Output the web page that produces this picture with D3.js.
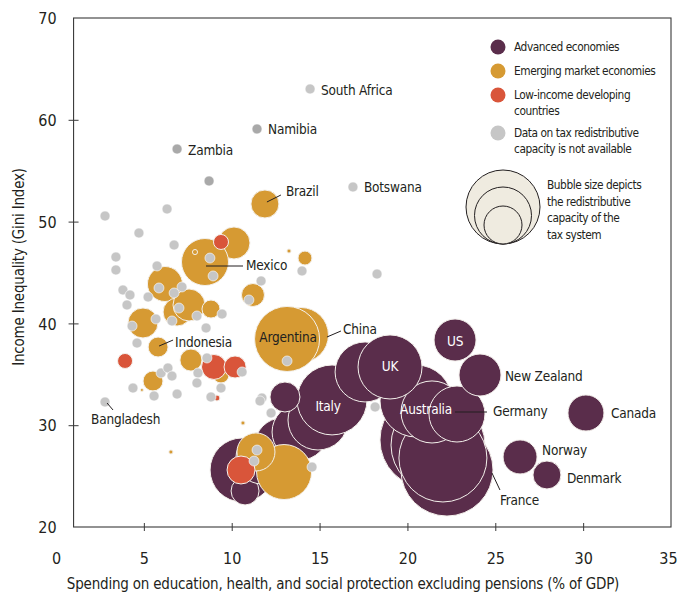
<!DOCTYPE html>
<html><head><meta charset="utf-8">
<script src="https://cdn.jsdelivr.net/npm/d3@7"></script>
<style>
html,body{margin:0;padding:0;background:#fff;}
svg text{font-family:"DejaVu Sans Condensed","DejaVu Sans",sans-serif;font-stretch:condensed;fill:#231f20;}
</style></head>
<body><svg id="c" width="678" height="596"></svg>
<script>
// ---- data ----
const xTicks = [0,5,10,15,20,25,30,35];
const yTicks = [20,30,40,50,60,70];
const groups = ["Advanced economies","Emerging market economies","Low-income developing countries","Data on tax redistributive capacity is not available"];

// x: social spending (% GDP), y: Gini, s: redistributive capacity
const advanced = [
  {name:"", x:21.17, y:28.55, s:21.3},
  {name:"", x:21.74, y:28.05, s:20.4},
  {name:"France", x:22.25, y:25.60, s:19.6},
  {name:"", x:22.02, y:26.78, s:17.9},
  {name:"Australia", x:20.49, y:32.38, s:12.0},
  {name:"", x:21.40, y:31.30, s:8.9},
  {name:"Germany", x:22.82, y:31.10, s:7.25},
  {name:"", x:10.59, y:25.60, s:9.47},
  {name:"", x:10.76, y:23.54, s:1.81},
  {name:"", x:11.72, y:26.78, s:6.25},
  {name:"", x:12.86, y:28.05, s:6.74},
  {name:"", x:13.89, y:29.33, s:7.25},
  {name:"", x:14.91, y:30.51, s:8.32},
  {name:"Italy", x:15.71, y:32.48, s:11.3},
  {name:"", x:17.59, y:35.23, s:8.32},
  {name:"UK", x:19.01, y:35.72, s:9.47},
  {name:"", x:13.03, y:32.77, s:2.08},
  {name:"US", x:22.71, y:38.37, s:4.08},
  {name:"New Zealand", x:24.13, y:34.93, s:4.08},
  {name:"Canada", x:30.16, y:31.20, s:3.00},
  {name:"Norway", x:26.41, y:26.88, s:2.67},
  {name:"Denmark", x:27.94, y:25.11, s:1.81}
];
const emerging = [
  {name:"China", x:13.94, y:38.86, s:6.99},
  {name:"Argentina", x:13.15, y:38.47, s:9.77},
  {name:"", x:12.98, y:25.40, s:6.99},
  {name:"", x:11.38, y:27.37, s:3.34},
  {name:"", x:10.13, y:47.90, s:2.37},
  {name:"Mexico", x:8.48, y:46.03, s:5.11},
  {name:"Brazil", x:11.89, y:51.73, s:1.81},
  {name:"", x:6.20, y:43.87, s:2.83},
  {name:"", x:6.89, y:41.12, s:1.81},
  {name:"", x:7.57, y:41.81, s:2.37},
  {name:"", x:8.82, y:41.41, s:0.75},
  {name:"", x:4.95, y:40.04, s:2.08},
  {name:"Indonesia", x:5.81, y:37.68, s:0.92},
  {name:"", x:7.68, y:36.40, s:1.12},
  {name:"", x:5.52, y:34.34, s:0.92},
  {name:"", x:11.21, y:42.79, s:1.22},
  {name:"", x:14.17, y:46.42, s:0.45},
  {name:"", x:9.39, y:34.93, s:0.59},
  {name:"", x:10.64, y:30.22, s:0.04},
  {name:"", x:6.54, y:27.37, s:0.04},
  {name:"", x:4.89, y:33.46, s:0.02},
  {name:"", x:13.26, y:47.11, s:0.04},
  {name:"", x:7.91, y:47.01, s:0.06}
];
const lowIncome = [
  {name:"", x:9.39, y:48.00, s:0.52},
  {name:"", x:3.93, y:36.31, s:0.52},
  {name:"", x:8.99, y:35.72, s:1.44},
  {name:"", x:10.19, y:35.72, s:1.12},
  {name:"", x:10.53, y:25.60, s:1.81},
  {name:"", x:9.16, y:32.67, s:0.08}
];
const notAvailable = [
  {name:"South Africa", x:14.46, y:63.03},
  {name:"Namibia", x:11.44, y:59.10, dark:true},
  {name:"Zambia", x:6.89, y:57.13, dark:true},
  {name:"Botswana", x:16.90, y:53.40},
  {name:"Bangladesh", x:2.79, y:32.28},
  {name:"", x:8.71, y:53.99, dark:true},
  {name:"", x:2.79, y:50.55},{name:"", x:6.32, y:51.24},{name:"", x:4.72, y:48.88},
  {name:"", x:6.72, y:47.70},{name:"", x:3.41, y:46.52},{name:"", x:3.41, y:45.25},
  {name:"", x:5.75, y:45.64},{name:"", x:8.76, y:46.42},{name:"", x:8.94, y:44.66},
  {name:"", x:3.81, y:43.28},{name:"", x:4.21, y:42.79},{name:"", x:5.24, y:42.59},
  {name:"", x:4.04, y:41.81},{name:"", x:5.86, y:43.48},{name:"", x:6.72, y:42.99},
  {name:"", x:7.17, y:43.58},{name:"", x:7.00, y:41.51},{name:"", x:8.02, y:40.73},
  {name:"", x:9.45, y:40.92},{name:"", x:11.67, y:44.17},{name:"", x:10.98, y:42.30},
  {name:"", x:4.33, y:39.74},{name:"", x:5.69, y:40.43},{name:"", x:6.60, y:40.24},
  {name:"", x:8.54, y:39.55},{name:"", x:4.61, y:38.07},{name:"", x:13.15, y:36.31},
  {name:"", x:8.59, y:36.60},{name:"", x:5.98, y:35.13},{name:"", x:6.37, y:35.62},
  {name:"", x:6.60, y:34.83},{name:"", x:8.08, y:35.13},{name:"", x:8.02, y:34.15},
  {name:"", x:4.38, y:33.65},{name:"", x:5.58, y:32.87},{name:"", x:6.89, y:33.06},
  {name:"", x:8.82, y:32.77},{name:"", x:9.39, y:33.65},{name:"", x:10.59, y:35.23},
  {name:"", x:11.72, y:32.67},{name:"", x:11.61, y:32.38},{name:"", x:12.24, y:31.20},
  {name:"", x:18.16, y:31.79},{name:"", x:11.44, y:27.56},{name:"", x:11.27, y:26.48},
  {name:"", x:14.57, y:25.89},{name:"", x:14.00, y:45.15},{name:"", x:18.27, y:44.85}
];

// ---- layout ----
const colors = {adv:"#5a2d4b", em:"#d69a33", low:"#d9553a", na:"#c6c6c6", naDark:"#a9a9a9"};
const svg = d3.select("#c");
const x = d3.scaleLinear().domain([0,35]).range([56,671]);
const y = d3.scaleLinear().domain([20,70]).range([527,18]);
const r = d3.scaleSqrt().domain([0,25]).range([0,52]);
const naR = 5;

// frame
const fx0 = x(1), fx1 = x(35), fy0 = y(70), fy1 = y(20);
svg.append("rect").attr("x",fx0).attr("y",fy0).attr("width",fx1-fx0).attr("height",fy1-fy0)
  .attr("fill","none").attr("stroke","#3a3a3a").attr("stroke-width",1.1);

// x axis ticks + labels
const gx = svg.append("g").attr("transform",`translate(0,${fy1})`)
  .call(d3.axisBottom(x).tickValues(xTicks).tickSize(0).tickPadding(0).tickFormat(d3.format("d")));
gx.select(".domain").remove();
gx.selectAll("text").attr("y",37).attr("dy",0).attr("dx",d=>d===35?-3:0).style("font-size","16px").style("font-family",null);
gx.selectAll(".tick").filter(d=>d>0&&d<35).append("line").attr("y1",-4).attr("y2",4).attr("stroke","#3a3a3a");

const gy = svg.append("g").attr("transform",`translate(${fx0},0)`)
  .call(d3.axisLeft(y).tickValues(yTicks).tickSize(0).tickPadding(0).tickFormat(d3.format("d")));
gy.select(".domain").remove();
gy.selectAll("text").attr("x",-17).attr("dy","0.36em").style("font-size","16px").style("font-family",null);
gy.selectAll(".tick").filter(d=>d>20&&d<70).append("line").attr("x1",-5).attr("x2",5).attr("stroke","#3a3a3a");

svg.append("text").attr("x",343).attr("y",589).attr("text-anchor","middle").style("font-size","15px").style("letter-spacing","-0.2px")
  .text("Spending on education, health, and social protection excluding pensions (% of GDP)");
svg.append("text").attr("transform","translate(24,267) rotate(-90)").attr("text-anchor","middle").style("font-size","15px").style("letter-spacing","-0.2px")
  .text("Income Inequality (Gini Index)");

// bubbles
const plot = svg.append("g");
function drawBubbles(data, color){
  plot.selectAll(null).data(data).enter().append("circle")
    .attr("cx",d=>x(d.x)).attr("cy",d=>y(d.y)).attr("r",d=>Math.max(1.5,r(d.s)))
    .attr("fill",color).attr("stroke","#f4f1ec").attr("stroke-width",1);
}
drawBubbles(advanced, colors.adv);
drawBubbles(emerging, colors.em);
drawBubbles(lowIncome, colors.low);
plot.selectAll(null).data(notAvailable).enter().append("circle")
  .attr("cx",d=>x(d.x)).attr("cy",d=>y(d.y)).attr("r",naR)
  .attr("fill",d=>d.dark?colors.naDark:colors.na).attr("stroke","#ffffff").attr("stroke-width",0.6);

// labels
const all = [...advanced.map(d=>({...d,g:"adv"})),...emerging.map(d=>({...d,g:"em"})),...notAvailable.map(d=>({...d,g:"na"}))];
const find = n => all.find(d=>d.name===n);
const labelLayout = {
  "US":{dx:0,dy:1,anchor:"middle",white:true},
  "UK":{dx:0,dy:-1,anchor:"middle",white:true},
  "Italy":{dx:-4,dy:6,anchor:"middle",white:true},
  "Australia":{dx:10,dy:8,anchor:"middle",white:true},
  "Argentina":{dx:1,dy:-2,anchor:"middle"},
  "New Zealand":{dx:25,dy:1},
  "Canada":{dx:25,dy:0},
  "Norway":{dx:22,dy:-7},
  "Denmark":{dx:20,dy:3},
  "South Africa":{dx:11,dy:1},
  "Namibia":{dx:11,dy:0},
  "Zambia":{dx:11,dy:1},
  "Botswana":{dx:11,dy:0},
  "Brazil":{dx:21,dy:-13,line:[2,-2,16,-9]},
  "Mexico":{dx:41,dy:3,line:[1,4,38,4]},
  "Indonesia":{dx:17,dy:-5,line:[1,-1,15,-7]},
  "Bangladesh":{dx:-14,dy:17,line:[2,1,8,8]},
  "China":{dx:42,dy:-6,line:[26,2,40,-4]},
  "Germany":{dx:36,dy:-3,line:[-2,-2,30,-2]},
  "France":{dx:53,dy:30,line:[45,3,53,20]}
};
const lab = svg.append("g");
Object.entries(labelLayout).forEach(([n,L])=>{
  const d = find(n); if(!d) return;
  const cx = x(d.x), cy = y(d.y);
  if(L.line){
    lab.append("line").attr("x1",cx+L.line[0]).attr("y1",cy+L.line[1]).attr("x2",cx+L.line[2]).attr("y2",cy+L.line[3])
      .attr("stroke","#231f20").attr("stroke-width",1);
  }
  lab.append("text").attr("x",cx+L.dx).attr("y",cy+L.dy).attr("dy","0.35em")
    .attr("text-anchor",L.anchor||"start").style("font-size","13.5px").style("letter-spacing","-0.2px")
    .style("fill",L.white?"#ffffff":"#231f20").text(n);
});

// legend
const leg = svg.append("g");
const legItems = [
  {c:colors.adv, lines:["Advanced economies"], y:47},
  {c:colors.em, lines:["Emerging market economies"], y:71},
  {c:colors.low, lines:["Low-income developing","countries"], y:95},
  {c:colors.na, lines:["Data on tax redistributive","capacity is not available"], y:133}
];
const legFont = "11.8px";
legItems.forEach(it=>{
  leg.append("circle").attr("cx",498).attr("cy",it.y).attr("r",7.5).attr("fill",it.c);
  it.lines.forEach((t,i)=>leg.append("text").attr("x",514).attr("y",it.y+i*16).attr("dy","0.35em")
    .style("font-size",legFont).style("letter-spacing","-0.45px").text(t));
});
[[37,207],[28.5,215.5],[19,225]].forEach(([rr,cy])=>{
  leg.append("circle").attr("cx",503).attr("cy",cy).attr("r",rr).attr("fill","#efebe0").attr("stroke","#231f20").attr("stroke-width",1);
});
["Bubble size depicts","the redistributive","capacity of the","tax system"].forEach((t,i)=>
  leg.append("text").attr("x",547).attr("y",185+i*16.5).attr("dy","0.35em")
    .style("font-size",legFont).style("letter-spacing","-0.45px").text(t));
</script></body></html>
